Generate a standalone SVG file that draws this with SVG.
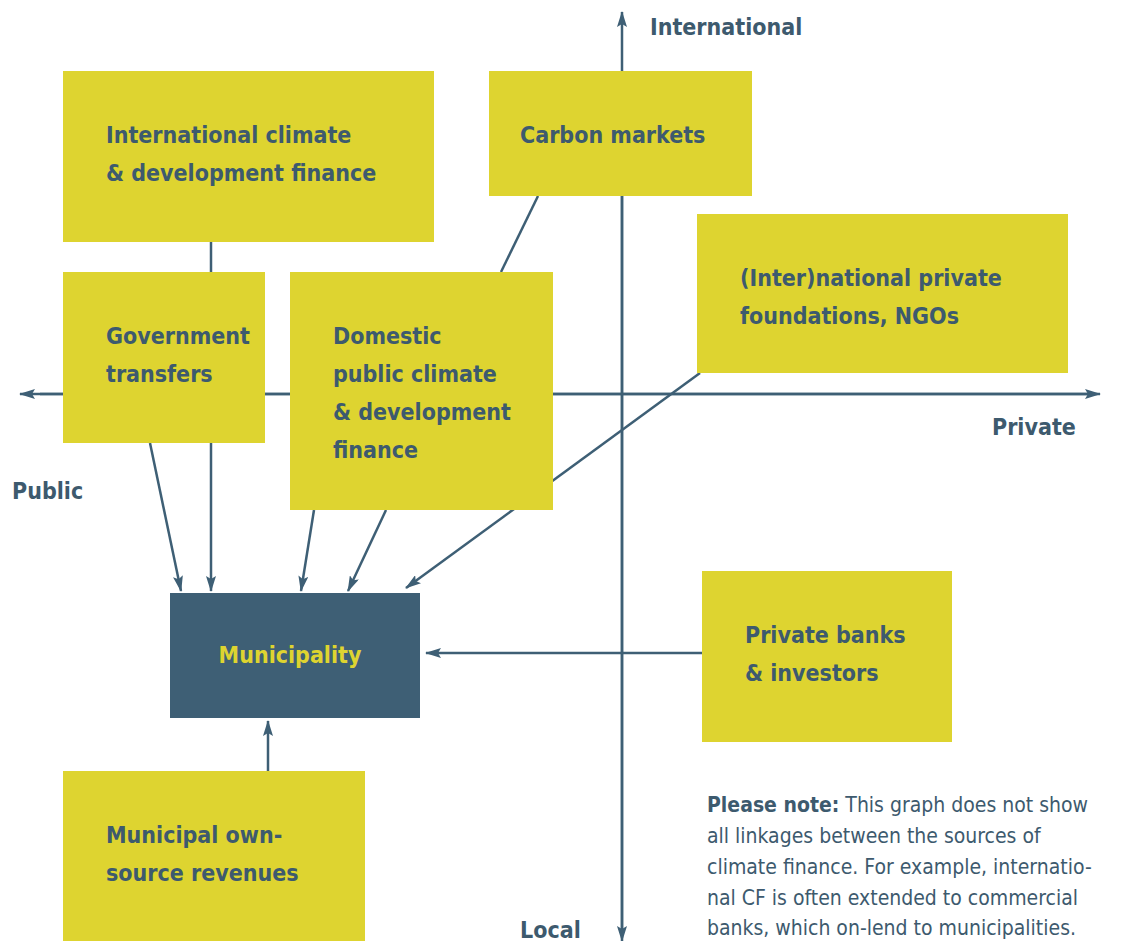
<svg xmlns="http://www.w3.org/2000/svg" width="1122" height="941" viewBox="0 0 1122 941">
<style>
.box{fill:#ded430}
.muni{fill:#3e5f75}
.t{font-family:"DejaVu Sans Condensed","DejaVu Sans",sans-serif;font-stretch:condensed;font-size:23px;fill:#3d5a6e;font-weight:bold}
.ax{font-family:"DejaVu Sans Condensed","DejaVu Sans",sans-serif;font-stretch:condensed;font-size:23px;fill:#3d5a6e;font-weight:bold}
.note{font-family:"DejaVu Sans Condensed","DejaVu Sans",sans-serif;font-stretch:condensed;font-size:21px;fill:#3d5a6e}
.ln{stroke:#3e5f75;stroke-width:2.5;fill:none}
.arr{stroke:#3e5f75;stroke-width:2.5;fill:none;marker-end:url(#ah)}
</style>
<defs>
<marker id="ah" viewBox="0 0 16 10" refX="15" refY="5" markerWidth="16" markerHeight="10" markerUnits="userSpaceOnUse" orient="auto">
<path d="M0,0 L16,5 L0,10 L3,5 Z" fill="#3e5f75"/>
</marker>
</defs>
<rect width="1122" height="941" fill="#ffffff"/>
<g id="connectors">
<line class="arr" x1="622" y1="935" x2="622" y2="12"/>
<line class="arr" x1="622" y1="100" x2="622" y2="941"/>
<line class="arr" x1="1090" y1="394" x2="20" y2="394"/>
<line class="arr" x1="40" y1="394" x2="1100" y2="394"/>
<line class="ln" x1="211" y1="242" x2="211" y2="272"/>
<line class="ln" x1="538" y1="196" x2="501" y2="272"/>
<line class="arr" x1="700" y1="373" x2="406" y2="588"/>
<line class="arr" x1="150" y1="443" x2="181" y2="591"/>
<line class="arr" x1="211" y1="443" x2="211" y2="591"/>
<line class="arr" x1="314" y1="510" x2="301" y2="591"/>
<line class="arr" x1="386" y1="510" x2="348" y2="591"/>
<line class="arr" x1="702" y1="653" x2="426" y2="653"/>
<line class="arr" x1="268" y1="771" x2="268" y2="721"/>
</g>
<g id="intl-climate">
<rect class="box" x="63" y="71" width="371" height="171"/>
<text class="t" x="106" y="143">International climate</text>
<text class="t" x="106" y="181">&amp; development finance</text>
</g>
<g id="carbon-markets">
<rect class="box" x="489" y="71" width="263" height="125"/>
<text class="t" x="520" y="143">Carbon markets</text>
</g>
<g id="gov-transfers">
<rect class="box" x="63" y="272" width="202" height="171"/>
<text class="t" x="106" y="344">Government</text>
<text class="t" x="106" y="382">transfers</text>
</g>
<g id="domestic">
<rect class="box" x="290" y="272" width="263" height="238"/>
<text class="t" x="333" y="344">Domestic</text>
<text class="t" x="333" y="382">public climate</text>
<text class="t" x="333" y="420">&amp; development</text>
<text class="t" x="333" y="458">finance</text>
</g>
<g id="foundations">
<rect class="box" x="697" y="214" width="371" height="159"/>
<text class="t" x="740" y="286">(Inter)national private</text>
<text class="t" x="740" y="324">foundations, NGOs</text>
</g>
<g id="municipality">
<rect class="muni" x="170" y="593" width="250" height="125"/>
<text class="t" x="290" y="663" text-anchor="middle" style="fill:#ded430">Municipality</text>
</g>
<g id="private-banks">
<rect class="box" x="702" y="571" width="250" height="171"/>
<text class="t" x="745" y="643">Private banks</text>
<text class="t" x="745" y="681">&amp; investors</text>
</g>
<g id="own-source">
<rect class="box" x="63" y="771" width="302" height="170"/>
<text class="t" x="106" y="843">Municipal own-</text>
<text class="t" x="106" y="881">source revenues</text>
</g>
<g id="axis-labels">
<text class="ax" x="650" y="35">International</text>
<text class="ax" x="992" y="435">Private</text>
<text class="ax" x="12" y="499">Public</text>
<text class="ax" x="520" y="938">Local</text>
</g>
<g id="note">
<text class="note" x="707" y="812"><tspan font-weight="bold">Please note:</tspan> This graph does not show</text>
<text class="note" x="707" y="843">all linkages between the sources of</text>
<text class="note" x="707" y="874">climate finance. For example, internatio-</text>
<text class="note" x="707" y="905">nal CF is often extended to commercial</text>
<text class="note" x="707" y="935">banks, which on-lend to municipalities.</text>
</g>
</svg>
